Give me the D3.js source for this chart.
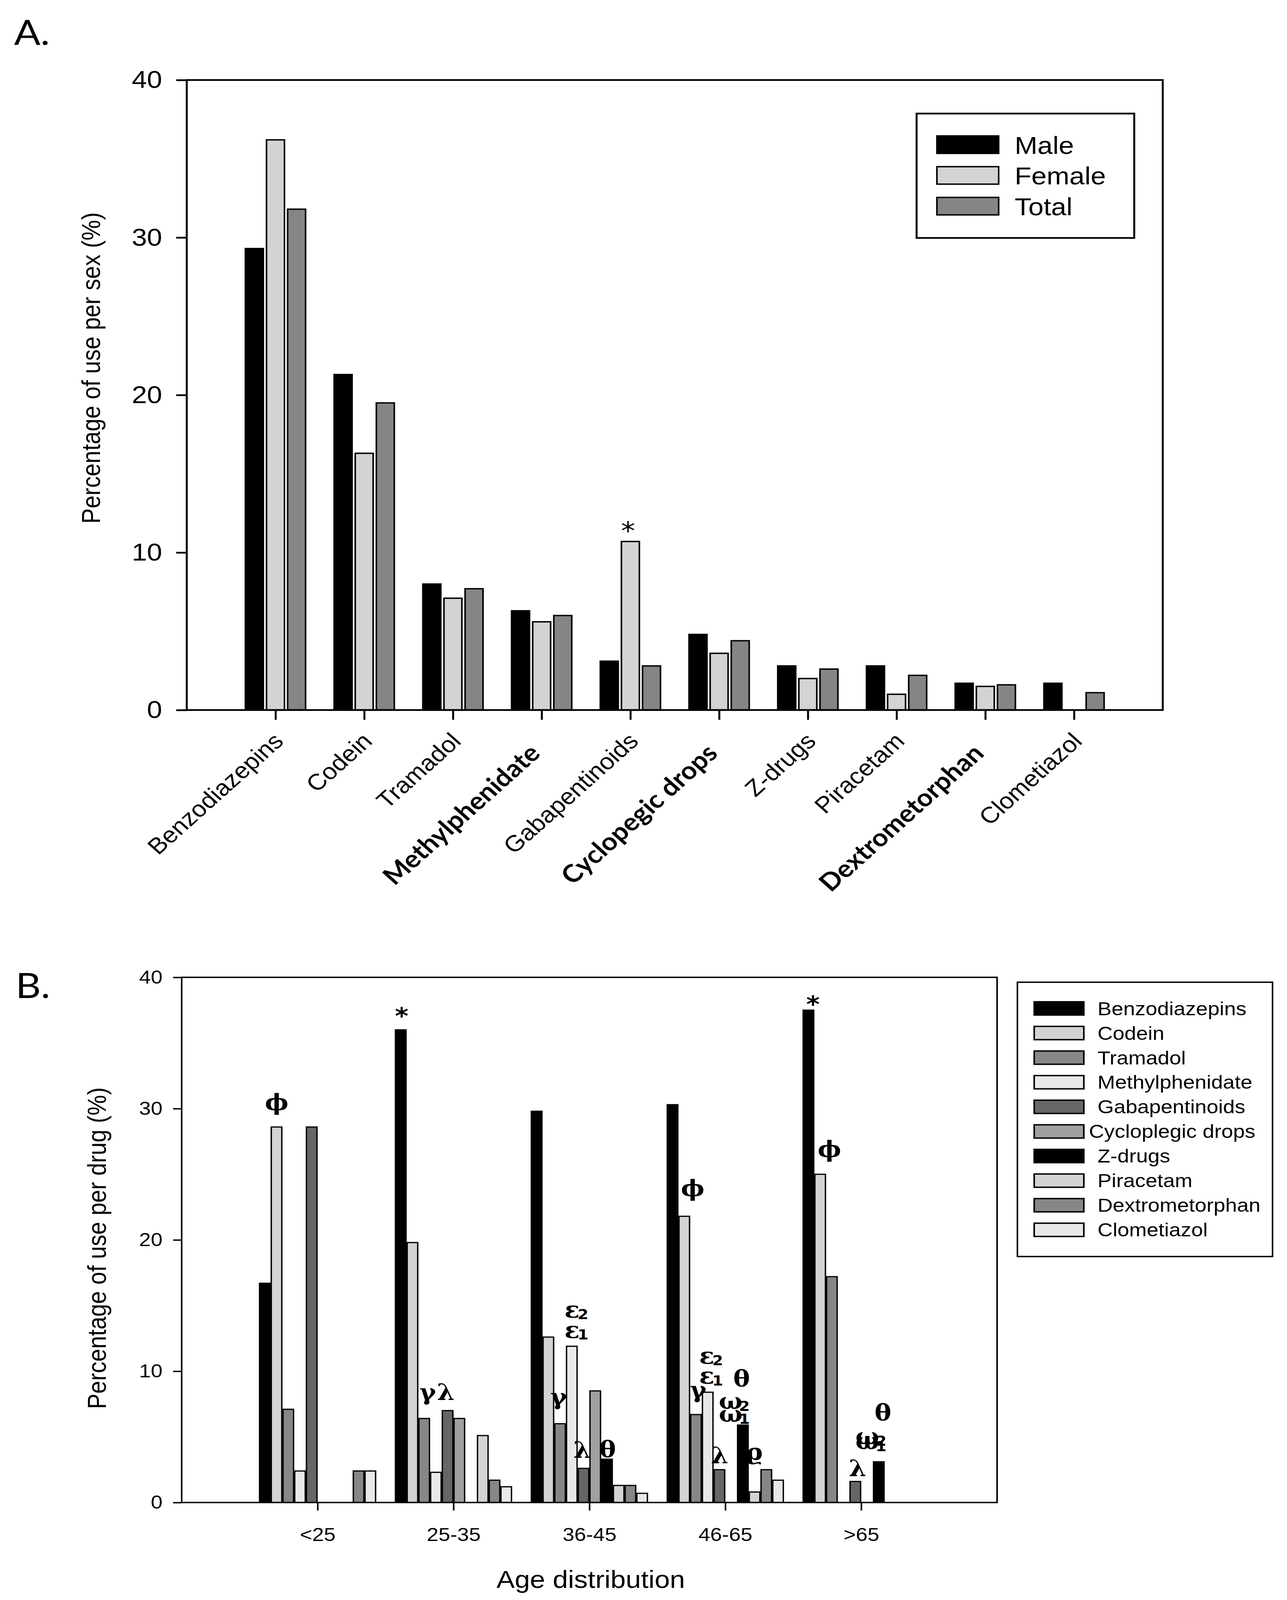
<!DOCTYPE html>
<html><head><meta charset="utf-8">
<script src="https://cdn.jsdelivr.net/npm/d3@7"></script>
<style>html,body{margin:0;padding:0;background:#fff;overflow:hidden}svg{display:block}</style>
</head><body>
<svg id="c" viewBox="0 0 3294 4579" preserveAspectRatio="none" style="width:100vw;height:100vh" xmlns="http://www.w3.org/2000/svg"></svg>
<script>
// ---------- DATA: Panel A ----------
const drugsA = ["Benzodiazepins","Codein","Tramadol","Methylphenidate","Gabapentinoids","Cyclopegic drops","Z-drugs","Piracetam","Dextrometorphan","Clometiazol"];
const boldLabelsA = ["Methylphenidate","Cyclopegic drops","Dextrometorphan"];
const sexSeries = ["Male","Female","Total"];
const maleVals   = [29.3,21.3,8.0,6.3,3.1,4.8,2.8,2.8,1.7,1.7];
const femaleVals = [36.2,16.3,7.1,5.6,10.7,3.6,2.0,1.0,1.5,0];
const totalVals  = [31.8,19.5,7.7,6.0,2.8,4.4,2.6,2.2,1.6,1.1];
const sexColors  = ["#000000","#d3d3d3","#858585"];
const yTicksA = [0,10,20,30,40];
const starA = [{drug:"Gabapentinoids", series:"Female", sym:"*"}];

// ---------- DATA: Panel B ----------
const ageGroups = ["<25","25-35","36-45","46-65",">65"];
const drugsB = ["Benzodiazepins","Codein","Tramadol","Methylphenidate","Gabapentinoids","Cycloplegic drops","Z-drugs","Piracetam","Dextrometorphan","Clometiazol"];
const benzoB    = [16.7,36.0,29.8,30.3,37.5];
const codeinB   = [28.6,19.8,12.6,21.8,25.0];
const tramadolB = [7.1,6.4,6.0,6.7,17.2];
const methylB   = [2.4,2.3,11.9,8.4,0];
const gabaB     = [28.6,7.0,2.6,2.5,1.6];
const cycloB    = [0,6.4,8.5,0,0];
const zdrugsB   = [0,0,3.3,5.9,3.1];
const piraB     = [0,5.1,1.3,0.8,0];
const dextroB   = [2.4,1.7,1.3,2.5,0];
const clometB   = [2.4,1.2,0.7,1.7,0];
const drugColorsB = ["#000000","#d3d3d3","#878787","#e8e8e8","#666666","#a0a0a0","#000000","#d3d3d3","#878787","#e8e8e8"];
const yTicksB = [0,10,20,30,40];
// annotations: age group, slot (fractional bar index within group), y value, symbol, subscript
const annotB = [
  {age:"<25",   slot:1.51, v:30.5, sym:"ϕ"},
  {age:"25-35", slot:0.58, v:37.4, sym:"*"},
  {age:"25-35", slot:2.81, v:8.4,  sym:"γ"},
  {age:"25-35", slot:4.34, v:8.4,  sym:"λ"},
  {age:"36-45", slot:3.52, v:14.7, sym:"ε", sub:"2"},
  {age:"36-45", slot:3.52, v:13.15,sym:"ε", sub:"1"},
  {age:"36-45", slot:2.38, v:8.06, sym:"γ"},
  {age:"36-45", slot:4.38, v:4.0,  sym:"λ"},
  {age:"36-45", slot:6.55, v:4.07, sym:"θ"},
  {age:"46-65", slot:2.22, v:23.95,sym:"ϕ"},
  {age:"46-65", slot:3.42, v:11.18,sym:"ε", sub:"2"},
  {age:"46-65", slot:3.42, v:9.66, sym:"ε", sub:"1"},
  {age:"46-65", slot:2.69, v:8.6,  sym:"γ"},
  {age:"46-65", slot:6.39, v:9.45, sym:"θ"},
  {age:"46-65", slot:5.46, v:7.72, sym:"ω", sub:"2"},
  {age:"46-65", slot:5.46, v:6.73, sym:"ω", sub:"1"},
  {age:"46-65", slot:4.52, v:3.59, sym:"λ"},
  {age:"46-65", slot:7.49, v:3.86, sym:"ϱ"},
  {age:">65",   slot:0.89, v:38.3, sym:"*"},
  {age:">65",   slot:2.29, v:26.93,sym:"ϕ"},
  {age:">65",   slot:6.86, v:6.87, sym:"θ"},
  {age:">65",   slot:5.53, v:5.06, sym:"ω", sub:"2"},
  {age:">65",   slot:5.53, v:4.66, sym:"ω", sub:"1"},
  {age:">65",   slot:4.69, v:2.61, sym:"λ"}
];

// ---------- DRAW ----------
const svg = d3.select("#c");
svg.append("rect").attr("width",3294).attr("height",4579).attr("fill","#fff");
const SANS = "'Liberation Sans', Arial, sans-serif";
const CAL = "Lato, 'Open Sans', sans-serif";

// Panel letters
svg.append("text").attr("x",36).attr("y",129).attr("font-family",CAL).attr("font-size",100).text("A.");
svg.append("text").attr("x",40).attr("y",2856).attr("font-family",CAL).attr("font-size",100).text("B.");

// ===== Panel A =====
const A = {left:478, right:2976, top:229, bottom:2032};
const xA = d3.scaleLinear().domain([0, drugsA.length + 1]).range([A.left, A.right]);
const yA = d3.scaleLinear().domain([0, 40]).range([A.bottom, A.top]);
const innerA = d3.scaleBand().domain(sexSeries).range([-77, 77]).paddingInner(0.15);
const seriesA = [maleVals, femaleVals, totalVals];
const gA = svg.append("g");

sexSeries.forEach((s, si) => {
  gA.selectAll(null).data(seriesA[si].map((v,i)=>({v,i})).filter(d=>d.v>0)).enter()
    .append("rect")
    .attr("x", d => xA(d.i + 1) + innerA(s))
    .attr("width", innerA.bandwidth())
    .attr("y", d => yA(d.v))
    .attr("height", d => yA(0) - yA(d.v))
    .attr("fill", sexColors[si]).attr("stroke","#000").attr("stroke-width",4);
});

// y axis A
const yAxA = gA.append("g").attr("transform",`translate(${A.left},0)`)
  .call(d3.axisLeft(yA).tickValues(yTicksA).tickSize(27).tickPadding(36).tickFormat(d3.format("d")));
yAxA.select(".domain").remove();
yAxA.selectAll("line").attr("stroke","#000").attr("stroke-width",5);
yAxA.selectAll("text").attr("font-family",SANS).attr("font-size",70).attr("fill","#000");

// x ticks A
const xAxA = gA.append("g").attr("transform",`translate(0,${A.bottom})`)
  .call(d3.axisBottom(xA).tickValues(d3.range(1, drugsA.length + 1)).tickSize(28).tickFormat(""));
xAxA.select(".domain").remove();
xAxA.selectAll("line").attr("stroke","#000").attr("stroke-width",5);

// frame A
gA.append("rect").attr("x",A.left).attr("y",A.top).attr("width",A.right-A.left).attr("height",A.bottom-A.top)
  .attr("fill","none").attr("stroke","#000").attr("stroke-width",5);

// x labels A
drugsA.forEach((d,i) => {
  const bold = boldLabelsA.includes(d);
  const ax = xA(i+1) + (bold ? 0 : 24);
  const ay = bold ? 2160 : 2125;
  gA.append("text").attr("transform",`translate(${ax},${ay}) rotate(-45)`)
    .attr("text-anchor","end")
    .attr("font-family", bold ? CAL : SANS)
    .attr("font-weight", bold ? 700 : 400)
    .attr("font-size", bold ? 70 : 65)
    .text(d);
});

// star A
starA.forEach(a => {
  const i = drugsA.indexOf(a.drug), si = sexSeries.indexOf(a.series);
  const v = seriesA[si][i];
  gA.append("text").attr("x", xA(i+1) + innerA(a.series) + innerA.bandwidth()/2 - 6)
    .attr("y", yA(v) - 45).attr("dy","0.2em").attr("dominant-baseline","central")
    .attr("text-anchor","middle").attr("font-family","'DejaVu Sans'").attr("font-size",72).text(a.sym);
});

// y label A
gA.append("text").attr("transform","translate(256,1053) rotate(-90)").attr("text-anchor","middle")
  .attr("font-family",SANS).attr("font-size",66).text("Percentage of use per sex (%)");

// legend A
const legA = gA.append("g");
legA.append("rect").attr("x",2346).attr("y",325).attr("width",557).attr("height",356)
  .attr("fill","#fff").attr("stroke","#000").attr("stroke-width",5);
sexSeries.forEach((s,si) => {
  const cy = 414 + si*88;
  legA.append("rect").attr("x",2398).attr("y",cy-25).attr("width",158).attr("height",50)
    .attr("fill",sexColors[si]).attr("stroke","#000").attr("stroke-width",4);
  legA.append("text").attr("x",2597).attr("y",cy+26).attr("font-family",SANS).attr("font-size",70).text(s);
});

// ===== Panel B =====
const B = {left:465, right:2552, top:2797, bottom:4300};
const xB = d3.scaleLinear().domain([0, ageGroups.length + 1]).range([B.left, B.right]);
const yB = d3.scaleLinear().domain([0, 40]).range([B.bottom, B.top]);
const innerB = d3.scaleBand().domain(drugsB).range([-150, 150]).paddingInner(0.1).paddingOuter(0.05);
const seriesB = [benzoB, codeinB, tramadolB, methylB, gabaB, cycloB, zdrugsB, piraB, dextroB, clometB];
const gB = svg.append("g");

drugsB.forEach((dname, di) => {
  gB.selectAll(null).data(seriesB[di].map((v,i)=>({v,i})).filter(d=>d.v>0)).enter()
    .append("rect")
    .attr("x", d => xB(d.i + 1) + innerB(dname))
    .attr("width", innerB.bandwidth())
    .attr("y", d => yB(d.v))
    .attr("height", d => yB(0) - yB(d.v))
    .attr("fill", drugColorsB[di]).attr("stroke","#000").attr("stroke-width",3.5);
});

const yAxB = gB.append("g").attr("transform",`translate(${B.left},0)`)
  .call(d3.axisLeft(yB).tickValues(yTicksB).tickSize(22).tickPadding(27).tickFormat(d3.format("d")));
yAxB.select(".domain").remove();
yAxB.selectAll("line").attr("stroke","#000").attr("stroke-width",4);
yAxB.selectAll("text").attr("font-family",SANS).attr("font-size",54).attr("fill","#000");

const xAxB = gB.append("g").attr("transform",`translate(0,${B.bottom})`)
  .call(d3.axisBottom(xB).tickValues(d3.range(1, ageGroups.length + 1)).tickSize(23)
    .tickFormat(d => ageGroups[d-1]));
xAxB.select(".domain").remove();
xAxB.selectAll("line").attr("stroke","#000").attr("stroke-width",4);
xAxB.selectAll("text").attr("font-family",SANS).attr("font-size",54).attr("fill","#000")
  .attr("y",110).attr("dy",0);

gB.append("rect").attr("x",B.left).attr("y",B.top).attr("width",B.right-B.left).attr("height",B.bottom-B.top)
  .attr("fill","none").attr("stroke","#000").attr("stroke-width",4);

// annotations B
const slotW = innerB.step();
annotB.forEach(a => {
  const gi = ageGroups.indexOf(a.age);
  const x0 = xB(gi + 1) + innerB(drugsB[0]) - innerB.paddingInner()*slotW/2;
  const cx = x0 + a.slot * slotW;
  const cy = yB(a.v);
  if (a.sym === "*") {
    gB.append("text").attr("x",cx).attr("y",cy).attr("dy","0.2em").attr("dominant-baseline","central")
      .attr("text-anchor","middle").attr("font-family","'DejaVu Sans'").attr("font-weight",700).attr("font-size",66).text("*");
  } else {
    gB.append("text").attr("x",cx).attr("y",cy).attr("dominant-baseline","central")
      .attr("text-anchor","middle").attr("font-family","'DejaVu Serif'").attr("font-weight",700)
      .attr("font-size",64).text(a.sym);
    if (a.sub) {
      gB.append("text").attr("x",cx + (a.sym==="ω"?35:28)).attr("y",cy + 14).attr("dominant-baseline","central")
        .attr("text-anchor","middle").attr("font-family","'DejaVu Sans'").attr("font-weight",700)
        .attr("font-size",40).text(a.sub);
    }
  }
});

gB.append("text").attr("transform","translate(271,3572) rotate(-90)").attr("text-anchor","middle")
  .attr("font-family",SANS).attr("font-size",66).text("Percentage of use per drug (%)");
gB.append("text").attr("x",1512).attr("y",4544).attr("text-anchor","middle")
  .attr("font-family",SANS).attr("font-size",70).text("Age distribution");

// legend B
const legB = gB.append("g");
legB.append("rect").attr("x",2604).attr("y",2811).attr("width",653).attr("height",785)
  .attr("fill","#fff").attr("stroke","#000").attr("stroke-width",4);
drugsB.forEach((d,di) => {
  const cy = 2886 + di*70.4;
  legB.append("rect").attr("x",2647).attr("y",cy-19).attr("width",127).attr("height",38)
    .attr("fill",drugColorsB[di]).attr("stroke","#000").attr("stroke-width",4);
  legB.append("text").attr("x", d.length > 16 ? 2787 : 2809).attr("y",cy+19)
    .attr("font-family",SANS).attr("font-size",54).text(d);
});
</script>
</body></html>
